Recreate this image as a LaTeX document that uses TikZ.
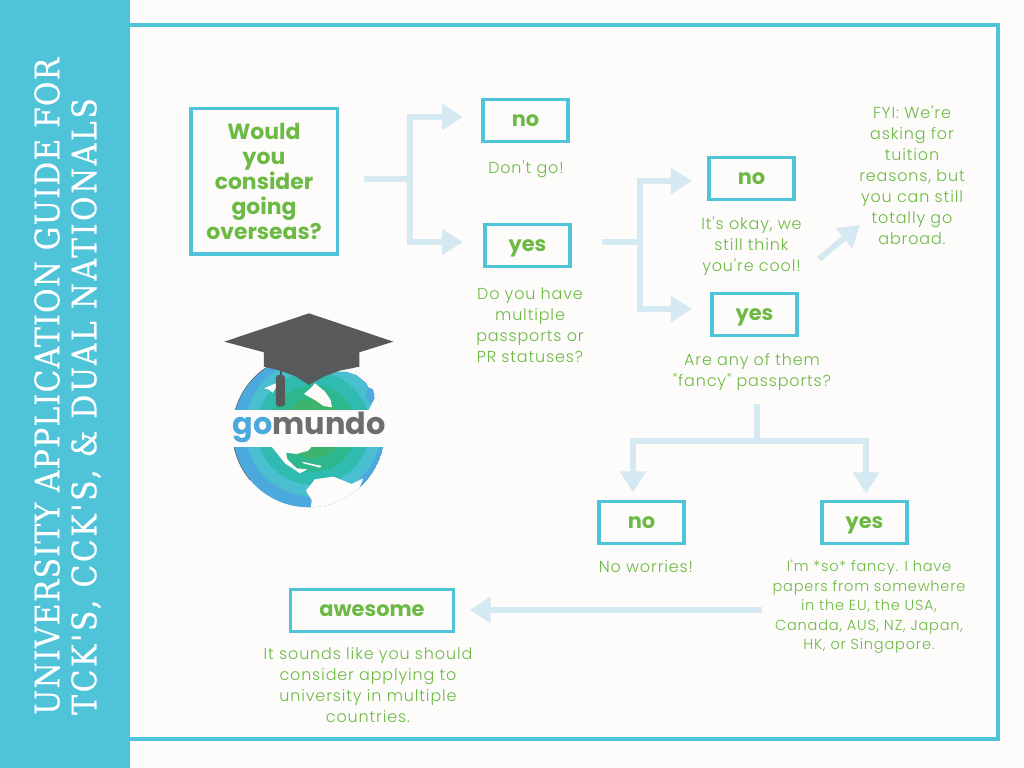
\documentclass[tikz,border=0pt]{standalone}
\usepackage{fontspec}
\usetikzlibrary{arrows.meta}
\setmainfont{Poppins}
\newfontfamily\sidefont[FakeStretch=0.88,LetterSpace=3.8,FakeBold=0.4]{DejaVu Serif}
\newfontfamily\sidefontb[FakeStretch=0.88,LetterSpace=7.8,FakeBold=0.4]{DejaVu Serif}
\newfontfamily\bodyfont[LetterSpace=5.5]{Poppins Light}
\newfontfamily\headfont{Poppins}[BoldFont={Poppins Bold}]
\definecolor{sidecyan}{HTML}{4FC3D7}
\definecolor{paper}{HTML}{FDFCFB}
\definecolor{leaf}{HTML}{6CB944}
\definecolor{pale}{HTML}{D4E9F2}
\definecolor{capgrey}{HTML}{58595B}
\definecolor{ringa}{HTML}{4CA9DD}
\definecolor{ringb}{HTML}{49BFD0}
\definecolor{ringc}{HTML}{2FBBB0}
\definecolor{ringd}{HTML}{2DB78F}
\definecolor{ringe}{HTML}{3DB36B}
\definecolor{ringf}{HTML}{7AB648}
\tikzset{
  boxed/.style={draw=sidecyan,line width=3.5bp,fill=paper,inner sep=0pt,outer sep=0pt,text=leaf},
  answer/.style={boxed,minimum width=85bp,minimum height=42bp,text height=13bp,text depth=0bp,font=\headfont\bfseries\fontsize{21}{21}\selectfont},
  remark/.style={align=center,text=leaf,font=\bodyfont\fontsize{16}{21}\selectfont},
  link/.style={draw=pale,line width=6bp},
  flow/.style={link,-{Triangle[length=21bp,width=25bp]}},
}
\begin{document}
\begin{tikzpicture}[line join=miter]
\useasboundingbox (0bp,0bp) rectangle (1024bp,768bp);
\fill [paper] (0bp,0bp) rectangle (1024bp,768bp);
\fill [sidecyan] (0bp,0bp) rectangle (130bp,768bp);
\draw [sidecyan,line width=4bp] (130bp,743bp) -- (998bp,743bp) -- (998bp,29bp) -- (130bp,29bp);
%%
\node (node_title_a) at (47bp,53bp) [anchor=west,rotate=90,inner sep=0pt,text=white,font=\sidefont\fontsize{34}{34}\selectfont] {UNIVERSITY APPLICATION GUIDE FOR};
\node (node_title_b) at (86bp,53bp) [anchor=west,rotate=90,inner sep=0pt,text=white,font=\sidefontb\fontsize{34}{34}\selectfont] {TCK'S, CCK'S, \& DUAL NATIONALS};
%%
\node (node_q) at (264bp,586.5bp) [boxed,minimum width=146.5bp,minimum height=145.5bp,align=center,font=\headfont\bfseries\fontsize{22}{25}\selectfont] {Would\\you\\consider\\going\\overseas?};
\node (node_no_a) at (525.5bp,647.5bp) [answer] {no};
\node (node_yes_a) at (527.5bp,522.5bp) [answer] {yes};
\node (node_no_b) at (751.5bp,589.5bp) [answer] {no};
\node (node_yes_b) at (754.5bp,453.5bp) [answer] {yes};
\node (node_no_c) at (641.5bp,245.5bp) [answer] {no};
\node (node_yes_c) at (864.5bp,245.5bp) [answer] {yes};
\node (node_awesome) at (372bp,157.5bp) [answer,minimum width=163bp] {awesome};
%%
\node (text_no_a) at (526bp,599bp) [remark] {Don't go!};
\node (text_yes_a) at (530bp,443bp) [remark] {Do you have\\multiple\\passports or\\PR statuses?};
\node (text_no_b) at (751.5bp,522bp) [remark] {It's okay, we\\still think\\you're cool!};
\node (text_yes_b) at (752bp,396bp) [remark] {Are any of them\\"fancy" passports?};
\node (text_fyi) at (912bp,593bp) [remark] {FYI: We're\\asking for\\tuition\\reasons, but\\you can still\\totally go\\abroad.};
\node (text_no_c) at (646bp,201bp) [remark] {No worries!};
\node (text_yes_c) at (869bp,161bp) [remark,font=\bodyfont\fontsize{14.6}{19.5}\selectfont] {I'm *so* fancy. I have\\papers from somewhere\\in the EU, the USA,\\Canada, AUS, NZ, Japan,\\HK, or Singapore.};
\node (text_awesome) at (368bp,83bp) [remark] {It sounds like you should\\consider applying to\\university in multiple\\countries.};
%%
\coordinate (fork_q) at (410bp,589bp);
\coordinate (fork_yes) at (640bp,526bp);
\coordinate (tail_fancy) at (757bp,364bp);
\coordinate (fork_fancy) at (757bp,327bp);
\coordinate (tail_papers) at (762bp,158bp);
\coordinate (tail_fyi) at (819bp,509bp);
\coordinate (head_fyi) at (860bp,543bp);
\draw [link,shorten <=27bp] (node_q.east |- fork_q) -- (fork_q);
\draw [flow,shorten >=20bp] (fork_q) |- ([yshift=3.5bp]node_no_a.west);
\draw [flow,shorten >=22bp] (fork_q) |- ([yshift=3.5bp]node_yes_a.west);
\draw [link,shorten <=32bp] (node_yes_a.east |- fork_yes) -- (fork_yes);
\draw [flow,shorten >=17bp] (fork_yes) |- ([yshift=-2.5bp]node_no_b.west);
\draw [flow,shorten >=20bp] (fork_yes) |- ([yshift=5.5bp]node_yes_b.west);
\draw [link] (tail_fancy) -- (fork_fancy);
\draw [flow,shorten >=9bp] (fork_fancy) -| ([xshift=-8.5bp]node_no_c.north);
\draw [flow,shorten >=8bp] (fork_fancy) -| ([xshift=1.5bp]node_yes_c.north);
\draw [flow,shorten >=16bp] (tail_papers) -- (node_awesome.east |- tail_papers);
\draw [flow] (tail_fyi) -- (head_fyi);
%% logo
\begin{scope}[x=0.3333bp,y=-0.3333bp,shift={(200bp,468bp)}]
\begin{scope}
\clip (326,393) circle (229);
\fill [ringa] (326,393) circle (229);
\fill [ringb] (340,385) circle (205);
\fill [ringc] (340,385) circle (170);
\fill [ringd] (340,385) circle (130);
\fill [ringe] (340,385) circle (90);
\fill [ringf] (340,385) circle (50);
% land
\fill [paper] (318,572) -- (345,538) -- (400,530) -- (455,552) -- (490,535) -- (478,565) -- (462,600) -- (450,650) -- (330,650) -- (335,600) -- cycle;
\fill [paper] (215,440) -- (255,490) -- (300,520) -- (322,508) -- (290,505) -- (262,478) -- (258,458) -- (290,462) -- (325,452) -- (335,440) -- cycle;
\fill [paper] (305,485) -- (365,498) -- (360,503) -- (310,490) -- cycle;
\fill [paper] (405,215) -- (480,170) -- (570,170) -- (570,335) -- (505,332) -- (522,300) -- (500,250) -- (470,225) -- (440,215) -- cycle;
\fill [ringa] (503,262) -- (520,268) -- (524,296) -- (510,312) -- (498,290) -- cycle;
\fill [ringb] (432,225) -- (470,262) -- (450,262) -- cycle;
\fill [paper] (312,282) -- (335,262) -- (345,250) -- (375,275) -- (392,300) -- (396,322) -- (370,318) -- (345,300) -- cycle;
\fill [paper] (192,265) -- (240,245) -- (218,278) -- (205,268) -- cycle;
\end{scope}
\draw [capgrey,line width=0.5bp] (326,393) ++(140:229) arc (140:285:229);
\fill [paper] (95,330) rectangle (558,440);
\fill [capgrey] (73,125) -- (327,40) -- (580,125) -- (478,157) -- (478,200) -- (420,212) -- (375,228) -- (327,255) -- (285,228) -- (240,212) -- (192,200) -- (192,157) -- cycle;
\fill [capgrey] (241,200) rectangle (246,225);
\fill [capgrey,rounded corners=3bp] (228,225) rectangle (255,320);
\end{scope}
\node (node_logo) at (309bp,341bp) [inner sep=0pt,font=\headfont\bfseries\fontsize{30.5}{30.5}\selectfont] {\textcolor{ringa}{go}\textcolor[HTML]{6D6E71}{mundo}};
\end{tikzpicture}
\end{document}
